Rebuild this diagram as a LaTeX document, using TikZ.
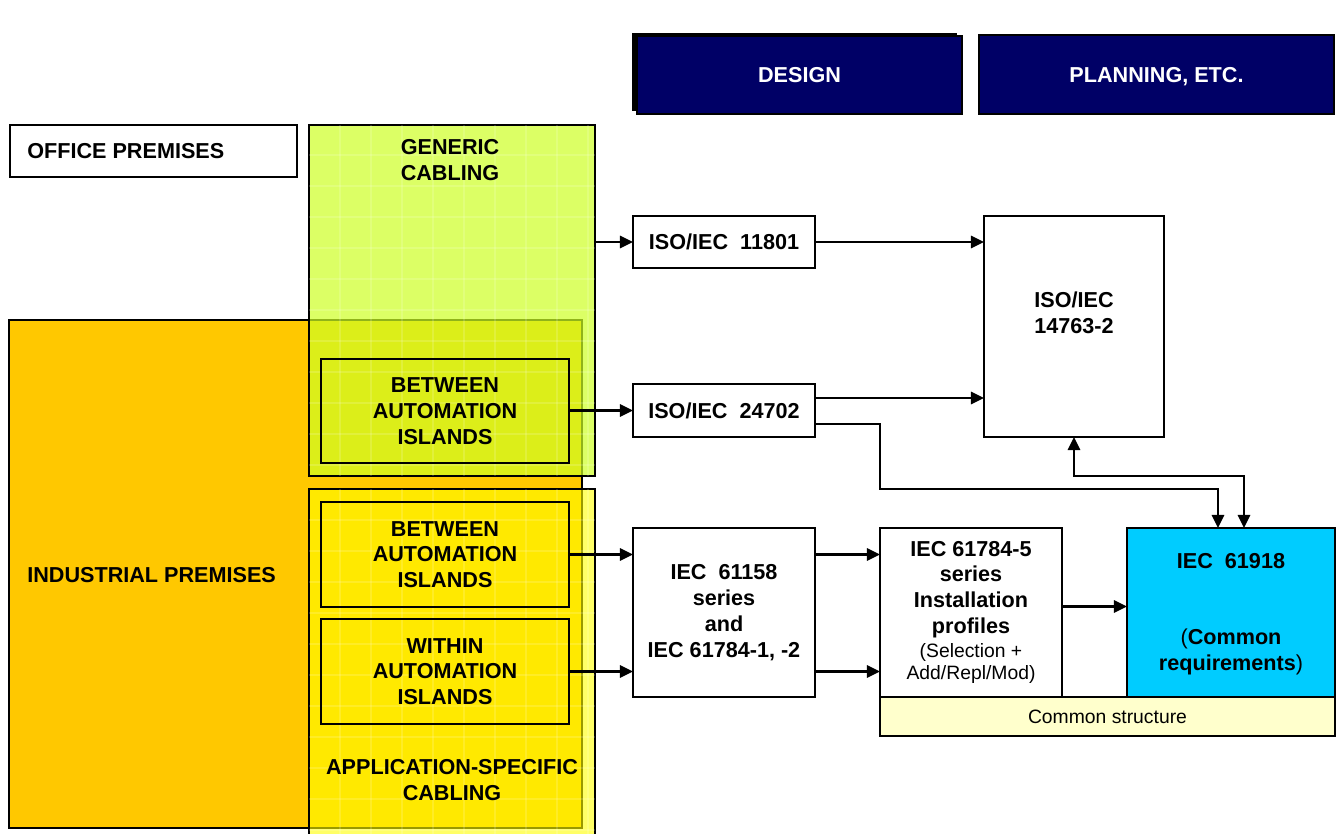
\documentclass[tikz,border=0pt]{standalone}
\usepackage{fontspec}
\setmainfont{Liberation Sans}
\usetikzlibrary{arrows.meta,calc}
\definecolor{orangeP}{HTML}{FFC800}
\definecolor{greenC}{HTML}{CEFF24}
\definecolor{yellowA}{HTML}{FFFF00}
\definecolor{navyB}{HTML}{000066}
\definecolor{cyanR}{HTML}{00CCFF}
\definecolor{creamC}{HTML}{FFFFCC}
\begin{document}
\begin{tikzpicture}[x=0.02cm,y=-0.02cm,
  box/.style={draw,line width=1.1pt,inner sep=0pt,outer sep=0pt,anchor=north west,
    align=center,font=\fontsize{12.3}{14.7}\selectfont\bfseries},
  sz/.style 2 args={minimum width=#1*0.02cm,minimum height=#2*0.02cm},
  lbl/.style={inner sep=0pt,align=center,font=\fontsize{12.3}{14.7}\selectfont\bfseries},
  arr/.style={line width=1.3pt,-{Triangle[length=7.5pt,width=7pt]}},
  arrs/.style={line width=1.3pt,{Triangle[length=7.5pt,width=7pt]}-{Triangle[length=7.5pt,width=7pt]}},
  gridline/.style={white,opacity=0.15,line width=0.6pt}]
\useasboundingbox (0,0) rectangle (1343,834);
\clip (0,0) rectangle (1343,834);
\fill[white] (0,0) rectangle (1343,834);

% premises and cabling regions
\node[box,sz={573}{508},fill=orangeP] (industrial) at (9,320) {};
\node[box,sz={286}{351},fill=greenC,fill opacity=0.7] (generic) at (309,125) {};
\begin{scope}
  \clip (generic.north west) rectangle (generic.south east);
  \foreach \g in {340,371,...,595} \draw[gridline] (\g,125) -- (\g,476);
  \foreach \g in {155,186,...,476} \draw[gridline] (309,\g) -- (595,\g);
\end{scope}
\node[box,sz={286}{360},fill=yellowA,fill opacity=0.6] (app) at (309,489) {};
\begin{scope}
  \clip (app.north west) rectangle (app.south east);
  \foreach \g in {340,371,...,595} \draw[gridline] (\g,489) -- (\g,849);
  \foreach \g in {520,551,...,849} \draw[gridline] (309,\g) -- (595,\g);
\end{scope}
\node[box,sz={287}{52},fill=white] (office) at (10,125) {};

\node[lbl,anchor=west] at (27,151) {OFFICE PREMISES};
\node[lbl,anchor=west] at (27,575) {INDUSTRIAL PREMISES};
\node[lbl] at (450,160) {GENERIC\\CABLING};
\node[lbl] at (452,780) {APPLICATION-SPECIFIC\\CABLING};

\node[box,sz={248}{104}] (betweenA) at (321,359) {BETWEEN\\AUTOMATION\\ISLANDS};
\node[box,sz={248}{105}] (betweenB) at (321,502) {BETWEEN\\AUTOMATION\\ISLANDS};
\node[box,sz={248}{105}] (within) at (321,619) {WITHIN\\AUTOMATION\\ISLANDS};

% header boxes
\fill[black] (632,33) rectangle (957,111);
\node[box,sz={325}{78},fill=navyB,text=white,line width=0.6pt] (design) at (637,36) {DESIGN};
\node[box,sz={355}{79},fill=navyB,text=white,line width=0.8pt,text depth=0pt] (planning) at (979,35) {PLANNING, ETC.};

% standards
\node[box,sz={182}{52},fill=white] (iso11801) at (633,216) {ISO/IEC\ \ 11801};
\node[box,sz={182}{53},fill=white] (iso24702) at (633,384) {ISO/IEC\ \ 24702};
\node[box,sz={180}{221},fill=white] (iso14763) at (984,216) {};
\node[lbl] at (1074,313) {ISO/IEC\\14763-2};
\node[box,sz={182}{169},fill=white] (i61158) at (633,528) {IEC\ \ 61158\\series\\and\\IEC 61784-1, -2};
\node[box,sz={455}{39},fill=creamC,font=\fontsize{11}{13}\selectfont] (common) at (880,697) {Common structure};
\node[box,sz={182}{169},fill=white] (i617845) at (880,528) {IEC 61784-5\\series\\Installation\\profiles\\[-1pt]{\mdseries\fontsize{11}{13}\selectfont (Selection +}\\[-2pt]{\mdseries\fontsize{11}{13}\selectfont Add/Repl/Mod)}};
\node[box,sz={208}{169},fill=cyanR] (i61918) at (1127,528) {};
\node[lbl] at (1231,561) {IEC\ \ 61918};
\node[lbl] at (1231,652) {{\mdseries(}Common\\requirements{\mdseries)}};

% connectors
\draw[arr] (iso11801.west -| generic.east) -- (iso11801.west);
\draw[arr] (iso11801.east) -- (iso11801.east -| iso14763.west);
\draw[arr] (iso24702.west -| betweenA.east) -- (iso24702.west);
\coordinate (a4) at ($(iso24702.east)+(0,-12.5)$);
\draw[arr] (a4) -- (a4 -| iso14763.west);
\coordinate (a5) at ($(iso24702.east)+(0,13.5)$);
\coordinate (k5) at ($(i617845.north west)+(0,-39)$);
\coordinate (t1) at ($(i61918.north)+(-13,0)$);
\coordinate (t2) at ($(i61918.north)+(13,0)$);
\draw[arr] (a5) -| (k5) -| (t1);
\draw[arrs] (iso14763.south) |- ($(t2)+(0,-52)$) -- (t2);
\draw[arr] (betweenB.east) -- (betweenB.east -| i61158.west);
\draw[arr] (within.east) -- (within.east -| i61158.west);
\draw[arr] (betweenB.east -| i61158.east) -- (betweenB.east -| i617845.west);
\draw[arr] (within.east -| i61158.east) -- (within.east -| i617845.west);
\coordinate (a9) at ($(i617845.east)+(0,-6)$);
\draw[arr] (a9) -- (a9 -| i61918.west);
\end{tikzpicture}
\end{document}
